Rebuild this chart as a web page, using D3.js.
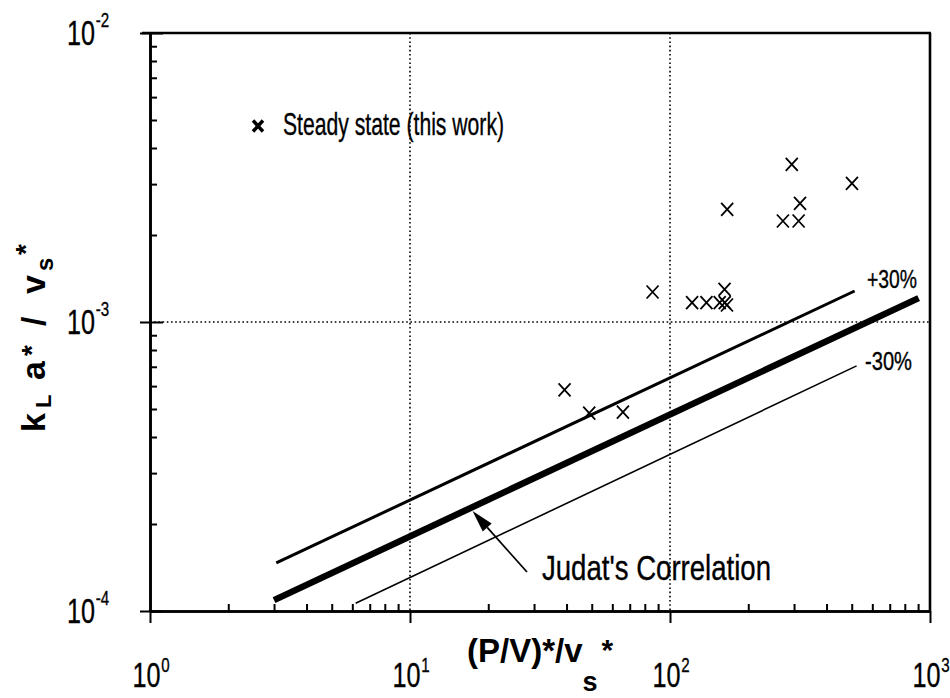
<!DOCTYPE html>
<html>
<head>
<meta charset="utf-8">
<script src="https://cdn.jsdelivr.net/npm/d3@7"></script>
<style>
  body { margin: 0; background: #fff; }
  text { font-family: "Liberation Sans", Arial, Helvetica, sans-serif; fill: #000; }
  .ink { stroke: #000; stroke-width: 0.35px; }
</style>
</head>
<body>
<svg id="chart" width="950" height="698"></svg>
<script>
// Steady-state measurements: (P/V)*/vs*  vs  kLa*/vs*
const steadyX = [39.3, 48.9, 65.9, 85.7, 121.6, 138.1, 155.3, 162.4, 165.6, 162.1, 165.9, 294, 271.8, 312.4, 316.3, 501];
const steadyY = [5.82e-4, 4.84e-4, 4.88e-4, 1.27e-3, 1.166e-3, 1.166e-3, 1.166e-3, 1.166e-3, 1.145e-3, 1.297e-3, 2.455e-3, 3.51e-3, 2.236e-3, 2.236e-3, 2.574e-3, 3.02e-3];

// Judat's correlation and the +/-30 % band (line end points)
const judatX = [3.0, 904];
const judatY = [1.091e-4, 1.21e-3];
const upperX = [3.06, 513];
const upperY = [1.467e-4, 1.28e-3];
const lowerX = [6.18, 522];
const lowerY = [1.063e-4, 7.05e-4];

// Axis decades and reference grid
const xTickExp = [0, 1, 2, 3];
const yTickExp = [-4, -3, -2];
const gridX = [10, 100];
const gridY = [1e-3];

const svg = d3.select("#chart");
const plotLeft = 150, plotRight = 930, plotTop = 33, plotBottom = 611;

const x = d3.scaleLog().domain([1, 1000]).range([plotLeft, plotRight]);
const y = d3.scaleLog().domain([1e-4, 1e-2]).range([plotBottom, plotTop]);

// minor ticks 2..9 in each decade
const minorX = [];
xTickExp.slice(0, -1).forEach(e => { for (let m = 2; m <= 9; m++) minorX.push(m * Math.pow(10, e)); });
const minorY = [];
yTickExp.slice(0, -1).forEach(e => { for (let m = 2; m <= 9; m++) minorY.push(m * Math.pow(10, e)); });
const majorX = xTickExp.map(e => Math.pow(10, e));
const majorY = yTickExp.map(e => Math.pow(10, e));

// dotted grid
const grid = svg.append("g").attr("stroke", "#000").attr("stroke-width", 1.6).attr("stroke-dasharray", "1.6,2.6");
grid.selectAll("line.gx").data(gridX).join("line").attr("class", "gx")
  .attr("x1", d => x(d)).attr("x2", d => x(d)).attr("y1", plotTop).attr("y2", plotBottom);
grid.selectAll("line.gy").data(gridY).join("line").attr("class", "gy")
  .attr("x1", plotLeft).attr("x2", plotRight).attr("y1", d => y(d)).attr("y2", d => y(d));

function styleAxis(g, w) {
  g.selectAll("path.domain").attr("stroke", "#000").attr("stroke-width", w);
  g.selectAll(".tick line").attr("stroke", "#000").attr("stroke-width", 2);
  g.selectAll(".tick text").remove();
}

// bottom axis
svg.append("g").attr("transform", `translate(0,${plotBottom})`)
  .call(d3.axisTop(x).tickValues(minorX).tickSize(7).tickSizeOuter(0).tickFormat(""))
  .call(g => styleAxis(g, 2.6));
svg.append("g").attr("transform", `translate(0,${plotBottom})`)
  .call(d3.axisBottom(x).tickValues(majorX).tickSize(12).tickSizeOuter(0).tickFormat(""))
  .call(g => styleAxis(g, 2.6));

// left axis
svg.append("g").attr("transform", `translate(${plotLeft},0)`)
  .call(d3.axisRight(y).tickValues(minorY).tickSize(7).tickSizeOuter(0).tickFormat(""))
  .call(g => styleAxis(g, 2.6));
svg.append("g").attr("transform", `translate(${plotLeft},0)`)
  .call(d3.axisLeft(y).tickValues(majorY).tickSize(10).tickSizeOuter(0).tickFormat(""))
  .call(g => styleAxis(g, 2.6));
svg.append("g").attr("transform", `translate(${plotLeft},0)`)
  .call(d3.axisRight(y).tickValues(majorY).tickSize(13).tickSizeOuter(0).tickFormat(""))
  .call(g => styleAxis(g, 0));

// frame: top and right edges
svg.append("line").attr("x1", plotLeft - 8).attr("x2", plotRight + 1).attr("y1", plotTop).attr("y2", plotTop)
  .attr("stroke", "#000").attr("stroke-width", 2.6);
svg.append("line").attr("x1", plotRight).attr("x2", plotRight).attr("y1", plotTop).attr("y2", plotBottom)
  .attr("stroke", "#000").attr("stroke-width", 2.6);

// power-of-ten tick labels
function powLabel(px, py, exp, anchor, supDy) {
  const g = svg.append("g").attr("transform", `translate(${px},${py}) scale(0.72,1)`);
  const t = g.append("text").attr("class", "ink").attr("text-anchor", anchor).attr("font-size", 35);
  t.append("tspan").text("10");
  t.append("tspan").attr("font-size", 21).attr("dy", supDy).attr("dx", 1).text(String(exp));
}
xTickExp.forEach(e => powLabel(x(Math.pow(10, e)) + 1, 687, e, "middle", -15));
yTickExp.forEach(e => powLabel(67, y(Math.pow(10, e)) + 12, e, "start", -18));

// correlation lines
const line = d3.line().x(d => x(d[0])).y(d => y(d[1]));
svg.append("path").datum(d3.zip(judatX, judatY)).attr("d", line)
  .attr("fill", "none").attr("stroke", "#000").attr("stroke-width", 6.5);
svg.append("path").datum(d3.zip(upperX, upperY)).attr("d", line)
  .attr("fill", "none").attr("stroke", "#000").attr("stroke-width", 3);
svg.append("path").datum(d3.zip(lowerX, lowerY)).attr("d", line)
  .attr("fill", "none").attr("stroke", "#000").attr("stroke-width", 1.6);

// steady-state points
const cross = "M-6,-6.5L6,6.5M-6,6.5L6,-6.5";
svg.append("g").selectAll("path").data(d3.zip(steadyX, steadyY)).join("path")
  .attr("transform", d => `translate(${x(d[0])},${y(d[1])})`)
  .attr("d", cross).attr("fill", "none").attr("stroke", "#000").attr("stroke-width", 1.8);

// legend
svg.append("path").attr("transform", "translate(258,126)")
  .attr("d", "M-5,-5.5L5,5.5M-5,5.5L5,-5.5").attr("stroke", "#000").attr("stroke-width", 3.4);
svg.append("text").attr("class", "ink").attr("x", 283).attr("y", 135).attr("font-size", 32)
  .attr("textLength", 221).attr("lengthAdjust", "spacingAndGlyphs").text("Steady state (this work)");

// band labels
svg.append("text").attr("class", "ink").attr("x", 867).attr("y", 288).attr("font-size", 25)
  .attr("textLength", 50).attr("lengthAdjust", "spacingAndGlyphs").text("+30%");
svg.append("text").attr("class", "ink").attr("x", 865).attr("y", 370).attr("font-size", 25)
  .attr("textLength", 47).attr("lengthAdjust", "spacingAndGlyphs").text("-30%");

// Judat's correlation annotation with arrow
const tipX = 17.4;
const slope = Math.log10(judatY[1] / judatY[0]) / Math.log10(judatX[1] / judatX[0]);
const tipY = judatY[0] * Math.pow(tipX / judatX[0], slope);
const tip = [x(tipX), y(tipY) + 4];
const tail = [527, 572];
const ang = Math.atan2(tip[1] - tail[1], tip[0] - tail[0]);
const headLen = 22, headW = 6;
const bx = tip[0] - headLen * Math.cos(ang), by = tip[1] - headLen * Math.sin(ang);
svg.append("line").attr("x1", tail[0]).attr("y1", tail[1]).attr("x2", bx).attr("y2", by)
  .attr("stroke", "#000").attr("stroke-width", 1.8);
svg.append("path")
  .attr("d", `M${tip[0]},${tip[1]}L${bx - headW * Math.sin(ang)},${by + headW * Math.cos(ang)}L${bx + headW * Math.sin(ang)},${by - headW * Math.cos(ang)}Z`)
  .attr("fill", "#000");
svg.append("text").attr("class", "ink").attr("x", 542).attr("y", 580).attr("font-size", 35)
  .attr("textLength", 229).attr("lengthAdjust", "spacingAndGlyphs").text("Judat's Correlation");

// x axis title
const xt = svg.append("text").attr("x", 467).attr("y", 662).attr("font-size", 33).attr("font-weight", "bold");
xt.append("tspan").text("(P/V)*/v");
xt.append("tspan").attr("font-size", 27).attr("dy", 29).text("s");
xt.append("tspan").attr("font-size", 30).attr("dy", -31).attr("dx", 4).text("*");

// y axis title (reads bottom to top)
const yt = svg.append("text").attr("transform", "translate(45,432) rotate(-90)")
  .attr("font-size", 34).attr("font-weight", "bold");
yt.append("tspan").attr("x", 0).attr("y", 0).text("k");
yt.append("tspan").attr("x", 24).attr("y", 6).attr("font-size", 22).text("L");
yt.append("tspan").attr("x", 52).attr("y", 0).text("a");
yt.append("tspan").attr("x", 76).attr("y", -4).attr("font-size", 28).text("*");
yt.append("tspan").attr("x", 106).attr("y", 0).text("/");
yt.append("tspan").attr("x", 138).attr("y", 0).text("v");
yt.append("tspan").attr("x", 161).attr("y", 8).attr("font-size", 24).text("s");
yt.append("tspan").attr("x", 177).attr("y", -10).attr("font-size", 28).text("*");
</script>
</body>
</html>
